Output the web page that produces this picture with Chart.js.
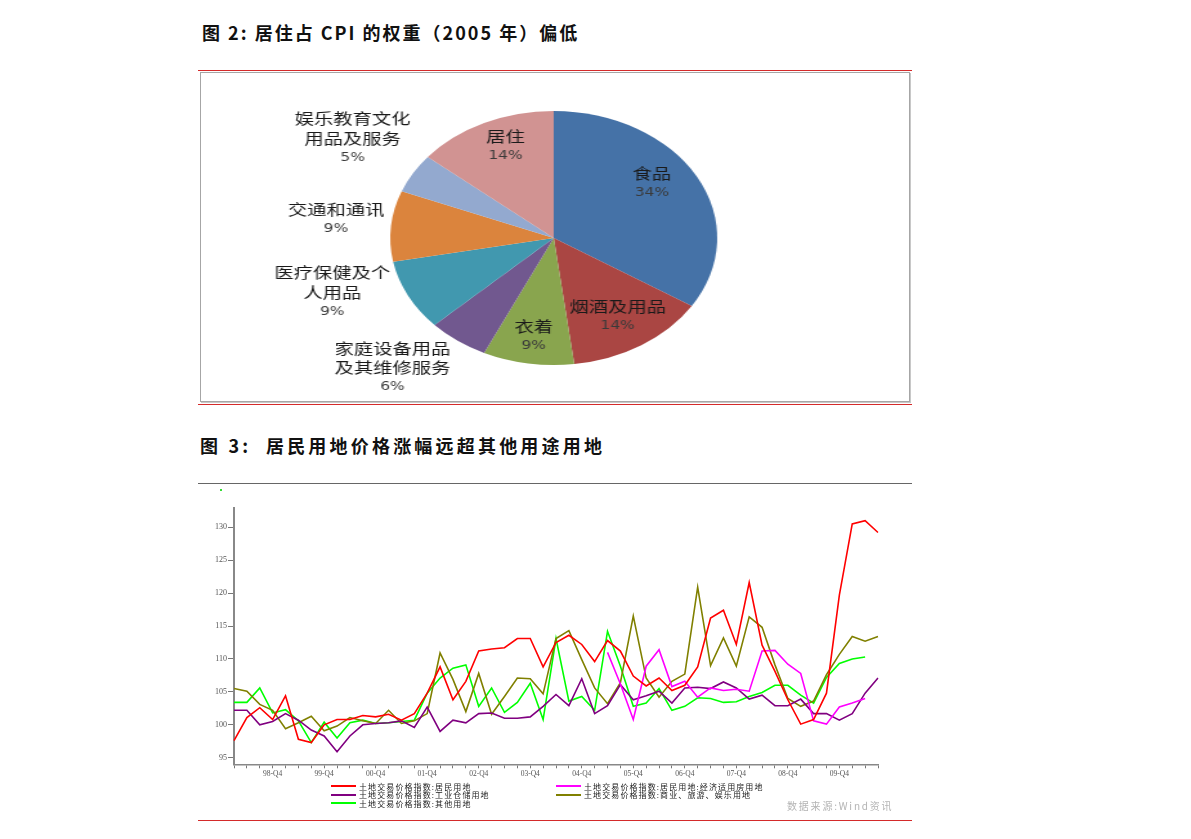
<!DOCTYPE html>
<html>
<head>
<meta charset="utf-8">
<script src="https://cdn.jsdelivr.net/npm/chart.js@4.4.1/dist/chart.umd.min.js"></script>
<style>
  body { margin: 0; background: #fff; width: 1191px; height: 839px; position: relative; overflow: hidden;
         font-family: "Noto Sans CJK SC", sans-serif; }
  .abs { position: absolute; }
  .title { font-size: 18px; line-height: 20px; color: #111; white-space: pre; font-weight: bold; }
  .rule { position: absolute; height: 0; }
  #pieBox { left: 200px; top: 72px; width: 708px; height: 328px; border: 1px solid #a6a6a6;
            box-shadow: 1px 1px 0 #c8c8c8; overflow: hidden; }
  #pieWrap { left: 0; top: 0; transform-origin: 0 0; }
  .lg { position: absolute; font-size: 8px; line-height: 9px; color: #222; letter-spacing: 1.1px; white-space: nowrap; }
  .sw { position: absolute; height: 2px; }
</style>
</head>
<body>
<div class="abs title" style="left:202px;top:22px;letter-spacing:2px">图 2: 居住占 CPI 的权重（2005 年）偏低</div>
<div class="rule" style="left:198px;top:70px;width:714px;border-top:1px solid #d42a2a"></div>
<div id="pieBox" class="abs">
  <div id="pieWrap" class="abs"><canvas id="pie" width="550" height="328"></canvas></div>
</div>
<div class="rule" style="left:198px;top:404px;width:714px;border-top:1px solid #d42a2a"></div>

<div class="abs title" style="left:200px;top:435px;letter-spacing:3.2px">图 3:  居民用地价格涨幅远超其他用途用地</div>
<div class="rule" style="left:198px;top:483px;width:714px;border-top:1px solid #666"></div>
<div class="abs" style="left:220px;top:489px;width:2px;height:2px;background:#33dd33"></div>
<canvas id="line" class="abs" width="720" height="285" style="left:180px;top:500px"></canvas>
<div id="legend"></div>
<div class="abs" style="left:787px;top:799px;font-size:10px;line-height:14px;color:#b4b4b4;letter-spacing:1.8px;white-space:nowrap">数据来源:Wind资讯</div>
<div class="rule" style="left:198px;top:820px;width:714px;border-top:1px solid #d42a2a"></div>

<script>
// Figure 2: CPI weights (2005), %
const categories = ['食品', '烟酒及用品', '衣着', '家庭设备用品及其维修服务', '医疗保健及个人用品', '交通和通讯', '娱乐教育文化用品及服务', '居住'];
const weights = [34, 14, 9, 6, 9, 9, 5, 14];
const sliceColors = ['#4572A7', '#AA4643', '#89A54E', '#71588F', '#4198AF', '#DB843D', '#93A9CF', '#D19392'];
// label placement relative to each slice's middle angle
const labelRadius = [0.74, 0.73, 0.785, 1.42, 1.42, 1.34, 1.46, 0.78];
const labelShift = [-7, 0, 0, 8, 9.5, 1, 2, 3];

// Figure 3: land transaction price indices, 98-Q1 .. 10-Q3
const quarters = ['98-Q1', '98-Q2', '98-Q3', '98-Q4', '99-Q1', '99-Q2', '99-Q3', '99-Q4',
  '00-Q1', '00-Q2', '00-Q3', '00-Q4', '01-Q1', '01-Q2', '01-Q3', '01-Q4',
  '02-Q1', '02-Q2', '02-Q3', '02-Q4', '03-Q1', '03-Q2', '03-Q3', '03-Q4',
  '04-Q1', '04-Q2', '04-Q3', '04-Q4', '05-Q1', '05-Q2', '05-Q3', '05-Q4',
  '06-Q1', '06-Q2', '06-Q3', '06-Q4', '07-Q1', '07-Q2', '07-Q3', '07-Q4',
  '08-Q1', '08-Q2', '08-Q3', '08-Q4', '09-Q1', '09-Q2', '09-Q3', '09-Q4',
  '10-Q1', '10-Q2', '10-Q3'];
const yTicks = [95, 100, 105, 110, 115, 120, 125, 130];

const residential = [97.6, 101.1, 102.6, 100.8, 104.4, 97.8, 97.3, 100.0, 100.8, 100.8,
  101.4, 101.2, 101.6, 100.7, 101.7, 104.8, 108.8, 103.8, 106.6, 111.2,
  111.5, 111.7, 113.1, 113.1, 108.8, 112.5, 113.6, 112.2, 109.6, 112.8,
  111.2, 107.4, 105.9, 107.1, 105.2, 106.0, 108.8, 116.2, 117.4, 112.2,
  121.6, 112.1, 108.1, 103.8, 100.1, 100.8, 104.8, 119.7, 130.5, 131.0,
  129.2];
const affordable = Array(29).fill(null).concat([111.0, 106.2, 100.8, 108.9, 111.4, 105.8, 106.6, 104.2, 105.6, 105.2,
  105.4, 105.1, 111.2, 111.3, 109.2, 107.8, 100.6, 100.1, 102.7, 103.3,
  104.0, null]);
const industrial = [102.2, 102.2, 100.0, 100.5, 101.7, 100.7, 99.2, 98.3, 95.9, 98.3,
  100.0, 100.2, 100.3, 100.6, 99.6, 102.7, 99.0, 100.7, 100.3, 101.7,
  101.8, 101.0, 101.0, 101.2, 102.8, 104.6, 102.9, 107.0, 101.7, 102.9,
  106.1, 103.8, 104.4, 105.1, 103.3, 105.6, 105.7, 105.5, 106.5, 105.6,
  103.9, 104.5, 102.9, 102.9, 103.9, 101.7, 101.7, 100.7, 101.7, 104.8,
  107.1];
const commercial = [105.5, 105.1, 103.1, 102.2, 99.4, 100.3, 101.3, 99.1, 99.8, 101.1,
  100.6, 100.2, 102.2, 100.2, 100.6, 101.7, 110.9, 106.9, 102.0, 107.8,
  101.6, 104.3, 107.1, 107.0, 104.7, 113.1, 114.3, 109.9, 105.6, 103.2,
  106.4, 116.5, 107.1, 104.2, 106.6, 107.7, 120.9, 109.0, 113.2, 108.9,
  116.4, 114.8, 109.1, 104.0, 102.8, 103.6, 107.6, 110.7, 113.4, 112.7,
  113.4];
const other = [103.4, 103.4, 105.6, 101.8, 102.3, 100.6, 97.3, 100.4, 98.0, 100.3,
  100.7, 100.2, 100.3, 100.5, 100.7, 104.8, 107.1, 108.6, 109.1, 102.8,
  105.6, 101.9, 103.4, 106.3, 100.8, 113.1, 103.6, 104.3, 102.2, 114.2,
  108.9, 102.8, 103.3, 105.5, 102.2, 102.8, 104.1, 104.0, 103.4, 103.5,
  104.3, 104.9, 106.0, 106.0, 104.5, 103.3, 107.2, 109.3, 110.0, 110.3,
  null];

const seriesNames = ['土地交易价格指数:居民用地', '土地交易价格指数:居民用地:经济适用房用地',
  '土地交易价格指数:工业仓储用地', '土地交易价格指数:商业、旅游、娱乐用地', '土地交易价格指数:其他用地'];
const seriesData = [residential, affordable, industrial, commercial, other];
const seriesColors = ['#FF0000', '#FF00FF', '#800080', '#808000', '#00FF00'];

// ---- pie ----
// the original picture is stretched sideways, so the pie is drawn round and widened with css
document.getElementById('pieWrap').style.transform = 'scaleX(' + (708 / 550) + ')';

function wrapName(s) {
  const out = [];
  for (let i = 0; i < s.length; i += 6) out.push(s.slice(i, i + 6));
  return out;
}

const pieLabels = {
  id: 'pieLabels',
  afterDatasetsDraw(chart) {
    const ctx = chart.ctx;
    chart.getDatasetMeta(0).data.forEach((arc, i) => {
      const p = arc.getProps(['x', 'y', 'startAngle', 'endAngle', 'outerRadius'], true);
      const mid = (p.startAngle + p.endAngle) / 2 + labelShift[i] * Math.PI / 180;
      const r = p.outerRadius * labelRadius[i];
      const cx = p.x + Math.cos(mid) * r;
      const cy = p.y + Math.sin(mid) * r;
      const lines = wrapName(categories[i]).concat([weights[i] + '%']);
      const lh = 19.6;
      const y0 = cy - (lines.length - 1) * lh / 2;
      ctx.save();
      ctx.textAlign = 'center';
      ctx.textBaseline = 'middle';
      lines.forEach((t, j) => {
        const pct = j === lines.length - 1;
        ctx.font = pct ? '12px "DejaVu Sans"' : '15px "Noto Sans CJK SC"';
        ctx.fillStyle = pct ? '#3a3a3a' : '#1a1a1a';
        ctx.fillText(t, cx, y0 + j * lh);
      });
      ctx.restore();
    });
  }
};

new Chart(document.getElementById('pie'), {
  type: 'pie',
  data: {
    labels: categories,
    datasets: [{ data: weights, backgroundColor: sliceColors, borderWidth: 0 }]
  },
  options: {
    responsive: false,
    animation: false,
    layout: { padding: { left: 147, right: 149, top: 38, bottom: 36 } },
    plugins: { legend: { display: false }, tooltip: { enabled: false } }
  },
  plugins: [pieLabels]
});

// ---- line chart ----
const tickFont = { family: '"Liberation Serif", serif', size: 8 };

new Chart(document.getElementById('line'), {
  type: 'line',
  data: {
    labels: quarters,
    datasets: seriesData.map((d, i) => ({
      label: seriesNames[i],
      data: d,
      borderColor: seriesColors[i],
      backgroundColor: seriesColors[i],
      borderWidth: 1.6,
      pointRadius: 0,
      tension: 0,
      fill: false
    }))
  },
  options: {
    responsive: false,
    animation: false,
    layout: { padding: { left: 0, right: 22, top: 7.5, bottom: 6.7 } },
    plugins: { legend: { display: false }, tooltip: { enabled: false } },
    scales: {
      x: {
        offset: false,
        grid: { drawOnChartArea: false, drawTicks: true, tickLength: 4, color: '#777' },
        border: { color: '#888', width: 1.5 },
        ticks: {
          autoSkip: false, maxRotation: 0, minRotation: 0, padding: 1,
          font: { family: '"Liberation Serif", serif', size: 7.5 }, color: '#555',
          callback: (v, i) => quarters[i].endsWith('Q4') ? quarters[i] : ''
        },
        afterFit: s => { s.height = 14; }
      },
      y: {
        min: 94,
        max: 133,
        afterBuildTicks: s => { s.ticks = yTicks.map(v => ({ value: v })); },
        grid: { drawOnChartArea: false, drawTicks: true, tickLength: 6, color: '#777' },
        border: { color: '#888', width: 2 },
        ticks: { font: tickFont, color: '#555', padding: 1 },
        afterFit: s => { s.width = 54; }
      }
    }
  }
});

// legend: two columns under the plot
const legend = document.getElementById('legend');
seriesNames.forEach((name, i) => {
  const col = i % 2, row = Math.floor(i / 2);
  const left = col === 0 ? 331 : 556;
  const top = 786 + row * 8.5;
  const sw = document.createElement('div');
  sw.className = 'sw';
  sw.style.cssText = `left:${left}px;top:${top - 1}px;width:25px;background:${seriesColors[i]}`;
  const tx = document.createElement('div');
  tx.className = 'lg';
  tx.style.cssText = `left:${left + 28}px;top:${top - 4.5}px`;
  tx.textContent = name;
  legend.appendChild(sw);
  legend.appendChild(tx);
});
</script>
</body>
</html>
